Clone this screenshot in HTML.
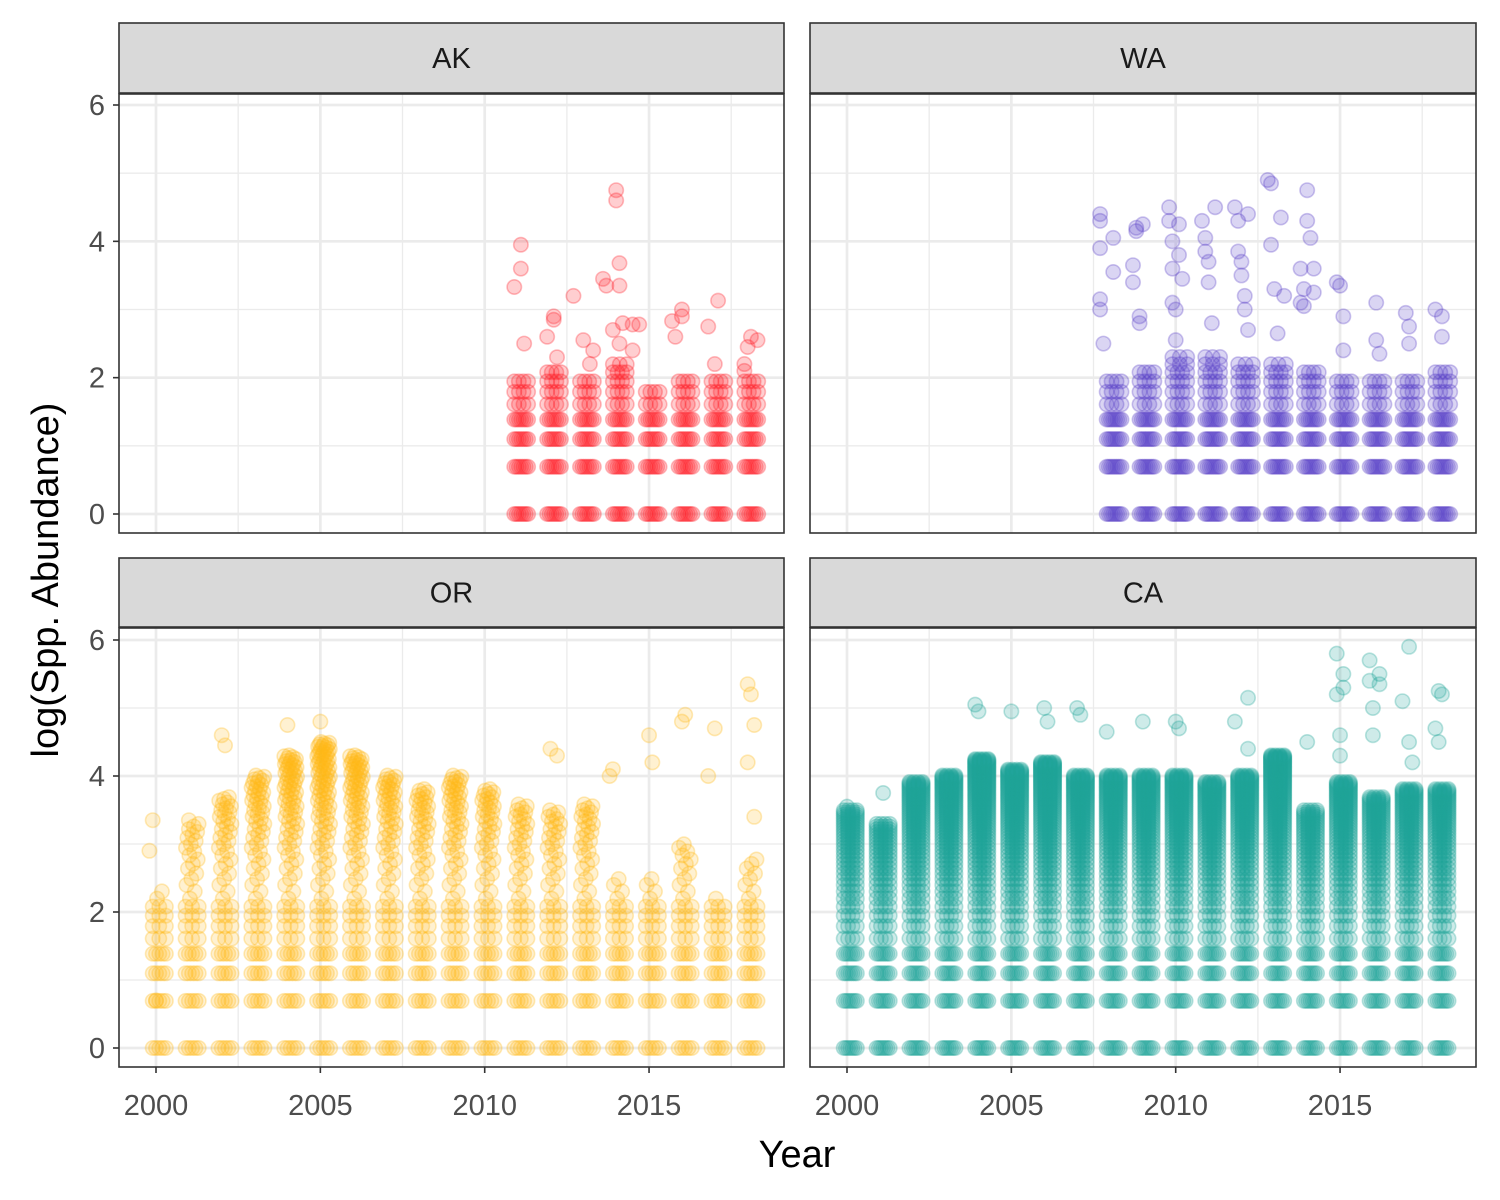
<!DOCTYPE html>
<html><head><meta charset="utf-8"><style>
body{margin:0;background:#fff;}
svg{display:block;font-family:"Liberation Sans",sans-serif;}
</style></head><body>
<svg id="chart" width="1500" height="1200" viewBox="0 0 1500 1200" xmlns="http://www.w3.org/2000/svg"></svg>
<script>
// ---------- data ----------
const panelNames = ["AK","WA","OR","CA"];
const xTicks = [2000,2005,2010,2015];
const yTicks = [0,2,4,6];
// dense columns: year and max abundance (all integer abundances 1..max plotted as log)
const akYears = [2011,2012,2013,2014,2015,2016,2017,2018];
const akMax   = [7,8,7,9,6,7,7,7];
const akOutX = [2011.1,2011.1,2010.9,2011.2,2012.1,2012.1,2011.9,2012.2,2013.0,2012.7,2013.3,2013.2,2013.6,2013.7,2014.0,2014.0,2014.1,2014.1,2013.9,2014.2,2014.1,2014.5,2014.5,2014.7,2015.7,2015.8,2016.0,2016.0,2016.8,2017.1,2017.0,2017.9,2018.1,2018.3,2018.0,2017.9];
const akOutY = [3.95,3.6,3.33,2.5,2.9,2.85,2.6,2.3,2.55,3.2,2.4,2.2,3.45,3.35,4.75,4.6,3.68,3.35,2.7,2.8,2.5,2.78,2.4,2.78,2.83,2.6,3.0,2.9,2.75,3.13,2.2,2.2,2.6,2.55,2.45,2.1];

const waYears = [2008,2009,2010,2011,2012,2013,2014,2015,2016,2017,2018];
const waMax   = [7,8,10,10,9,9,8,7,7,7,8];
const waOutX = [2007.7,2007.7,2007.7,2007.7,2007.7,2007.8,2008.1,2008.1,2008.7,2008.7,2008.8,2008.8,2008.9,2008.9,2009.0,2009.8,2009.8,2009.9,2009.9,2009.9,2010.0,2010.0,2010.1,2010.1,2010.2,2010.8,2010.9,2010.9,2011.0,2011.0,2011.1,2011.2,2011.8,2011.9,2011.9,2012.0,2012.0,2012.1,2012.1,2012.2,2012.2,2012.8,2012.9,2012.9,2013.0,2013.1,2013.2,2013.3,2013.8,2013.8,2013.9,2013.9,2014.0,2014.0,2014.1,2014.2,2014.2,2014.9,2015.0,2015.1,2015.1,2016.1,2016.1,2016.2,2017.0,2017.1,2017.1,2017.9,2018.1,2018.1];
const waOutY = [4.4,4.3,3.9,3.15,3.0,2.5,3.55,4.05,3.65,3.4,4.2,4.15,2.9,2.8,4.25,4.5,4.3,4.0,3.6,3.1,3.0,2.55,4.25,3.8,3.45,4.3,4.05,3.85,3.7,3.4,2.8,4.5,4.5,4.3,3.85,3.7,3.5,3.2,3.0,2.7,4.4,4.9,4.85,3.95,3.3,2.65,4.35,3.2,3.6,3.1,3.05,3.3,4.75,4.3,4.05,3.6,3.25,3.4,3.35,2.9,2.4,3.1,2.55,2.35,2.95,2.75,2.5,3.0,2.9,2.6];

const orYears = [2000,2001,2002,2003,2004,2005,2006,2007,2008,2009,2010,2011,2012,2013,2014,2015,2016,2017,2018];
const orMax   = [10,27,40,55,74,90,74,55,45,55,45,36,33,36,12,12,20,9,16];
const orOutX = [2018.0,2018.1,2018.2,2018.0,2016.1,2016.0,2005.0,2004.0,2002.0,2002.1,2012.0,2012.2,2015.0,2015.1,1999.9,1999.8,2001.0,2013.9,2013.8,2017.0,2016.8,2018.2,2000.0];
const orOutY = [5.35,5.2,4.75,4.2,4.9,4.8,4.8,4.75,4.6,4.45,4.4,4.3,4.6,4.2,3.35,2.9,3.35,4.1,4.0,4.7,4.0,3.4,0.7];

const caYears = [2000,2001,2002,2003,2004,2005,2006,2007,2008,2009,2010,2011,2012,2013,2014,2015,2016,2017,2018];
const caMax   = [33,27,50,55,70,60,67,55,55,55,55,50,55,74,33,50,40,45,45];
const caOutX = [2003.9,2004.0,2005.0,2006.0,2006.1,2007.0,2007.1,2007.9,2009.0,2010.0,2010.1,2011.8,2012.2,2012.2,2014.0,2014.9,2014.9,2015.0,2015.0,2015.1,2015.1,2015.9,2015.9,2016.0,2016.0,2016.2,2016.2,2016.9,2017.1,2017.1,2017.2,2018.0,2018.1,2018.0,2017.9,2000.0,2001.1];
const caOutY = [5.05,4.95,4.95,5.0,4.8,5.0,4.9,4.65,4.8,4.8,4.7,4.8,5.15,4.4,4.5,5.8,5.2,4.6,4.3,5.5,5.3,5.7,5.4,5.0,4.6,5.5,5.35,5.1,5.9,4.5,4.2,5.25,5.2,4.5,4.7,3.55,3.75];

// ---------- layout ----------
const NS="http://www.w3.org/2000/svg";
const svg=document.getElementById('chart');
function mk(tag,attrs,parent){const e=document.createElementNS(NS,tag);for(const k in attrs)e.setAttribute(k,attrs[k]);(parent||svg).appendChild(e);return e;}
const panels=[
 {name:"AK",x0:119,x1:784,sy0:23,sy1:93,py0:94,py1:533,yZero:514,ySix:105,years:akYears,max:akMax,ox:akOutX,oy:akOutY,col:"rgb(255,32,42)",subs:7,hiSubs:3,spread:0.42,op:0.22},
 {name:"WA",x0:810,x1:1476,sy0:23,sy1:93,py0:94,py1:533,yZero:514,ySix:105,years:waYears,max:waMax,ox:waOutX,oy:waOutY,col:"rgb(88,62,200)",subs:8,hiSubs:3,spread:0.45,op:0.22},
 {name:"OR",x0:119,x1:784,sy0:558,sy1:627,py0:628,py1:1067,yZero:1048,ySix:640,years:orYears,max:orMax,ox:orOutX,oy:orOutY,col:"rgb(255,184,24)",subs:5,hiSubs:1,spread:0.4,op:0.2},
 {name:"CA",x0:810,x1:1476,sy0:558,sy1:627,py0:628,py1:1067,yZero:1048,ySix:640,years:caYears,max:caMax,ox:caOutX,oy:caOutY,col:"rgb(33,165,153)",subs:7,hiSubs:4,spread:0.4,op:0.22}
];
panels.forEach((p,pi)=>{
  const left = pi%2===0;
  const x2000 = left?156:847;
  const xs=v=>x2000+(v-2000)*32.87;
  const ys=v=>p.yZero+(p.ySix-p.yZero)*v/6;
  const g=mk('g',{});
  
  
  mk('rect',{x:p.x0,y:p.py0,width:p.x1-p.x0,height:p.py1-p.py0,fill:'#fff'},g);
  for(let v=1;v<=5;v+=2){mk('line',{x1:p.x0,x2:p.x1,y1:ys(v),y2:ys(v),stroke:'#ebebeb','stroke-width':1.3},g);}
  for(let v=1997.5;v<=2020;v+=5){const x=xs(v);if(x>p.x0&&x<p.x1)mk('line',{x1:x,x2:x,y1:p.py0,y2:p.py1,stroke:'#ebebeb','stroke-width':1.3},g);}
  yTicks.forEach(v=>mk('line',{x1:p.x0,x2:p.x1,y1:ys(v),y2:ys(v),stroke:'#ebebeb','stroke-width':2.7},g));
  xTicks.forEach(v=>mk('line',{x1:xs(v),x2:xs(v),y1:p.py0,y2:p.py1,stroke:'#ebebeb','stroke-width':2.7},g));
  const pts=mk('g',{fill:p.col,'fill-opacity':p.op,stroke:p.col,'stroke-opacity':0.3,'stroke-width':1.6},g);
  
  
  p.years.forEach((yr,i)=>{
    for(let k=1;k<=p.max[i];k++){
      const n = k<=4 ? p.subs : (k<=8 ? Math.max(p.hiSubs,Math.ceil(p.subs/2)) : p.hiSubs);
      for(let s=0;s<n;s++){
        const frac = n===1 ? ((k*0.37)%1) : s/(n-1);
        const x=xs(yr-0.1+p.spread*frac);
        const c=mk('circle',{cx:x,cy:ys(Math.log(k)),r:7.2},pts);
        
        
      }
    }
  });
  p.ox.forEach((xv,i)=>{
    const c=mk('circle',{cx:xs(xv),cy:ys(p.oy[i]),r:7.2},pts);
    
    
  });
  mk('rect',{x:p.x0,y:p.py0,width:p.x1-p.x0,height:p.py1-p.py0,fill:'none',stroke:'#333','stroke-width':1.6},g);
  mk('rect',{x:p.x0,y:p.sy0,width:p.x1-p.x0,height:p.sy1-p.sy0,fill:'#d9d9d9',stroke:'#333','stroke-width':1.6},g);
  const st=mk('text',{x:(p.x0+p.x1)/2,y:(p.sy0+p.sy1)/2+10,'text-anchor':'middle','font-size':29,fill:'#1a1a1a'},g);
  st.textContent=p.name;
  
  
  if(left){
    yTicks.forEach(v=>{
      mk('line',{x1:p.x0-6,x2:p.x0,y1:ys(v),y2:ys(v),stroke:'#333','stroke-width':1.6},g);
      const t=mk('text',{x:p.x0-14,y:ys(v)+10,'text-anchor':'end','font-size':29,fill:'#4d4d4d'},g);
      t.textContent=v;
      
      
    });
  }
  if(pi>=2){
    xTicks.forEach(v=>{
      mk('line',{x1:xs(v),x2:xs(v),y1:p.py1,y2:p.py1+6,stroke:'#333','stroke-width':1.6},g);
      const t=mk('text',{x:xs(v),y:p.py1+48,'text-anchor':'middle','font-size':29,fill:'#4d4d4d'},g);
      t.textContent=v;
      
      
    });
  }
});
const xt=mk('text',{x:797,y:1167,'text-anchor':'middle','font-size':38,fill:'#000'});
xt.textContent='Year';


const yt=mk('text',{x:0,y:0,'text-anchor':'middle','font-size':38,fill:'#000',transform:'translate(58,580) rotate(-90)'});
yt.textContent='log(Spp. Abundance)';


</script>
</body></html>
